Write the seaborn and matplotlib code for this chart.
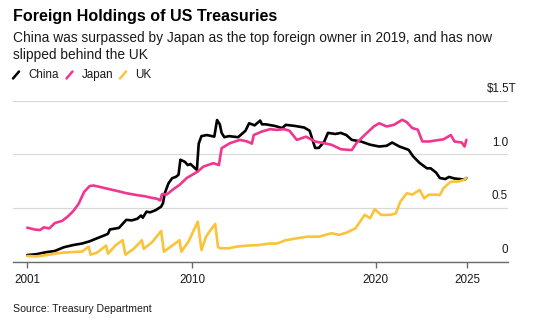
import matplotlib
matplotlib.use("Agg")
import matplotlib.pyplot as plt
import seaborn as sns
import pandas as pd
from matplotlib.lines import Line2D

# ---- data (decimal year, $ trillions) ----
china_years = [2001.0, 2001.5, 2002.0, 2002.5, 2003.0, 2003.5, 2004.0, 2004.4, 2004.8, 2005.2,
               2005.4, 2005.5, 2006.0, 2006.4, 2006.7, 2007.0, 2007.2, 2007.3, 2007.5, 2007.7,
               2008.0, 2008.3, 2008.4, 2008.5, 2008.7, 2008.9, 2009.1, 2009.25, 2009.35, 2009.6,
               2009.75, 2009.9, 2010.25, 2010.35, 2010.5, 2010.8, 2011.2, 2011.35, 2011.5, 2011.6,
               2011.75, 2012.0, 2012.5, 2012.9, 2013.1, 2013.4, 2013.7, 2013.8, 2014.0, 2014.5,
               2014.9, 2015.1, 2015.6, 2016.1, 2016.4, 2016.7, 2016.9, 2017.2, 2017.4, 2017.8,
               2018.1, 2018.4, 2018.7, 2019.2, 2019.7, 2020.2, 2020.6, 2020.9, 2021.3, 2021.8,
               2022.05, 2022.4, 2022.8, 2023.0, 2023.3, 2023.5, 2023.8, 2024.0, 2024.3, 2024.6,
               2024.85, 2024.95]
china_vals = [0.062, 0.07, 0.088, 0.10, 0.135, 0.155, 0.17, 0.19, 0.218, 0.245,
              0.26, 0.30, 0.315, 0.39, 0.385, 0.40, 0.43, 0.41, 0.466, 0.46,
              0.48, 0.513, 0.545, 0.638, 0.73, 0.778, 0.79, 0.81, 0.95, 0.93,
              0.90, 0.91, 0.855, 1.10, 1.17, 1.18, 1.165, 1.32, 1.28, 1.20,
              1.16, 1.17, 1.16, 1.22, 1.29, 1.27, 1.315, 1.28, 1.28, 1.265,
              1.245, 1.275, 1.265, 1.25, 1.22, 1.06, 1.06, 1.12, 1.20, 1.19,
              1.20, 1.18, 1.135, 1.12, 1.09, 1.073, 1.08, 1.11, 1.073, 1.042,
              0.98, 0.92, 0.87, 0.87, 0.83, 0.78, 0.77, 0.79, 0.775, 0.77,
              0.765, 0.78]

japan_years = [2001.0, 2001.4, 2001.7, 2001.9, 2002.2, 2002.5, 2002.9, 2003.2, 2003.5, 2003.8,
               2004.1, 2004.4, 2004.6, 2005.0, 2005.5, 2006.0, 2006.4, 2007.0, 2007.4, 2007.8,
               2008.1, 2008.25, 2008.35, 2008.6, 2009.0, 2009.3, 2009.7, 2010.3, 2010.6, 2011.15,
               2011.45, 2011.6, 2012.05, 2012.6, 2013.0, 2013.25, 2013.35, 2013.8, 2014.25, 2014.6,
               2015.0, 2015.3, 2015.7, 2016.2, 2016.7, 2017.2, 2017.6, 2018.1, 2018.5, 2018.7,
               2018.95, 2019.4, 2019.9, 2020.2, 2020.6, 2021.0, 2021.45, 2021.7, 2022.0, 2022.3,
               2022.55, 2022.9, 2023.3, 2023.7, 2024.1, 2024.3, 2024.7, 2024.85, 2024.95]
japan_vals = [0.317, 0.30, 0.295, 0.32, 0.31, 0.36, 0.38, 0.42, 0.47, 0.54,
              0.65, 0.705, 0.71, 0.695, 0.675, 0.655, 0.638, 0.62, 0.61, 0.595,
              0.585, 0.57, 0.63, 0.625, 0.68, 0.715, 0.78, 0.84, 0.886, 0.918,
              0.90, 1.058, 1.104, 1.135, 1.12, 1.10, 1.18, 1.213, 1.235, 1.228,
              1.235, 1.22, 1.135, 1.165, 1.12, 1.104, 1.089, 1.048, 1.042, 1.04,
              1.104, 1.18, 1.26, 1.29, 1.26, 1.275, 1.322, 1.30, 1.245, 1.23,
              1.12, 1.12, 1.13, 1.14, 1.18, 1.12, 1.11, 1.073, 1.135]

uk_years = [2001.0, 2001.5, 2002.0, 2002.5, 2003.0, 2003.5, 2004.0, 2004.35, 2004.45, 2004.8,
            2005.3, 2005.4, 2005.8, 2006.2, 2006.35, 2006.8, 2007.25, 2007.35, 2007.8, 2008.3,
            2008.45, 2008.9, 2009.3, 2009.4, 2009.8, 2010.3, 2010.5, 2010.75, 2011.0, 2011.25,
            2011.4, 2011.5, 2012.0, 2012.4, 2013.0, 2013.6, 2014.25, 2014.6, 2015.1, 2015.7,
            2016.3, 2016.9, 2017.6, 2018.0, 2018.4, 2018.9, 2019.4, 2019.7, 2019.95, 2020.3,
            2020.8, 2021.1, 2021.35, 2021.7, 2022.0, 2022.4, 2022.65, 2022.9, 2023.3, 2023.5,
            2023.7, 2024.1, 2024.5, 2024.8, 2024.95]
uk_vals = [0.053, 0.05, 0.06, 0.075, 0.085, 0.09, 0.095, 0.14, 0.065, 0.085,
           0.15, 0.075, 0.15, 0.20, 0.065, 0.12, 0.20, 0.12, 0.18, 0.286,
           0.093, 0.15, 0.20, 0.093, 0.19, 0.373, 0.109, 0.233, 0.296, 0.352,
           0.14, 0.125, 0.125, 0.14, 0.15, 0.155, 0.17, 0.168, 0.20, 0.218,
           0.233, 0.233, 0.265, 0.25, 0.27, 0.311, 0.436, 0.405, 0.489, 0.436,
           0.436, 0.45, 0.56, 0.638, 0.625, 0.669, 0.59, 0.625, 0.625, 0.62,
           0.685, 0.746, 0.746, 0.762, 0.778]

series_names = ["China", "Japan", "UK"]
series_colors = ["#000000", "#f0368f", "#fbc33a"]
x_ticks = [2001, 2010, 2020, 2025]
y_ticks = [0, 0.5, 1.0, 1.5]
y_tick_labels = ["0", "0.5", "1.0", "$1.5T"]

title = "Foreign Holdings of US Treasuries"
subtitle = ("China was surpassed by Japan as the top foreign owner in 2019, and has now\n"
            "slipped behind the UK")
source = "Source: Treasury Department"

df = pd.concat([
    pd.DataFrame({"year": china_years, "value": china_vals, "country": "China"}),
    pd.DataFrame({"year": japan_years, "value": japan_vals, "country": "Japan"}),
    pd.DataFrame({"year": uk_years, "value": uk_vals, "country": "UK"}),
], ignore_index=True)

sns.set_style("white")
plt.rcParams["font.family"] = ["Liberation Sans", "DejaVu Sans"]

W, H = 534, 325
fig = plt.figure(figsize=(W / 100, H / 100), dpi=100)
ax_left, ax_right, ax_top, ax_bot = 13, 508, 100.7, 261.7
ax = fig.add_axes([ax_left / W, 1 - ax_bot / H, (ax_right - ax_left) / W, (ax_bot - ax_top) / H])

sns.lineplot(data=df, x="year", y="value", hue="country", hue_order=series_names,
             palette=dict(zip(series_names, series_colors)), estimator=None,
             linewidth=1.9, legend=False, ax=ax)

ax.set_xlim(2000.22, 2027.22)
ax.set_ylim(0, 1.5)
ax.set_xlabel("")
ax.set_ylabel("")
for s in ["top", "right", "left"]:
    ax.spines[s].set_visible(False)
ax.spines["bottom"].set_color("#6b6b6b")
ax.spines["bottom"].set_linewidth(1.0)
ax.spines["bottom"].set_zorder(5)

ax.set_yticks(y_ticks)
ax.set_yticklabels([])
ax.tick_params(axis="y", length=0)
ax.yaxis.grid(True, color="#d9d9d9", linewidth=0.9)
ax.set_axisbelow(True)

ax.set_xticks(x_ticks)
ax.set_xticklabels([str(t) for t in x_ticks])
ax.tick_params(axis="x", direction="out", length=4, width=1, color="#6b6b6b",
               labelsize=8.4, labelcolor="#1a1a1a", pad=5, bottom=True)

for v, lab in zip(y_ticks, y_tick_labels):
    dx = 6.5 if lab.endswith("T") else 0
    ax.annotate(lab, xy=(1.0, v), xycoords=("axes fraction", "data"),
                xytext=(dx, 4), textcoords="offset points", ha="right", va="bottom",
                fontsize=8.4, color="#1a1a1a", annotation_clip=False)

fig.text(13 / W, 1 - 16 / H, title, fontsize=11.6, fontweight="bold", ha="left", va="center",
         color="#000000")
fig.text(13 / W, 1 - 46.5 / H, subtitle, fontsize=9.9, ha="left", va="center",
         color="#1a1a1a", linespacing=1.3)

# legend with slash marks
leg_y = 1 - 75 / H
slash_x = [13, 66.5, 120]
for sx, name, col in zip(slash_x, series_names, series_colors):
    fig.add_artist(Line2D([sx / W, (sx + 6) / W], [leg_y - 3.5 / H, leg_y + 3.5 / H],
                          color=col, linewidth=1.8, transform=fig.transFigure))
    fig.text((sx + 15) / W, leg_y, name, fontsize=8.4, ha="left", va="center", color="#1a1a1a")

fig.text(13 / W, 1 - 309 / H, source, fontsize=7.6, ha="left", va="center", color="#1a1a1a")

fig.savefig("out.png", dpi=100)
